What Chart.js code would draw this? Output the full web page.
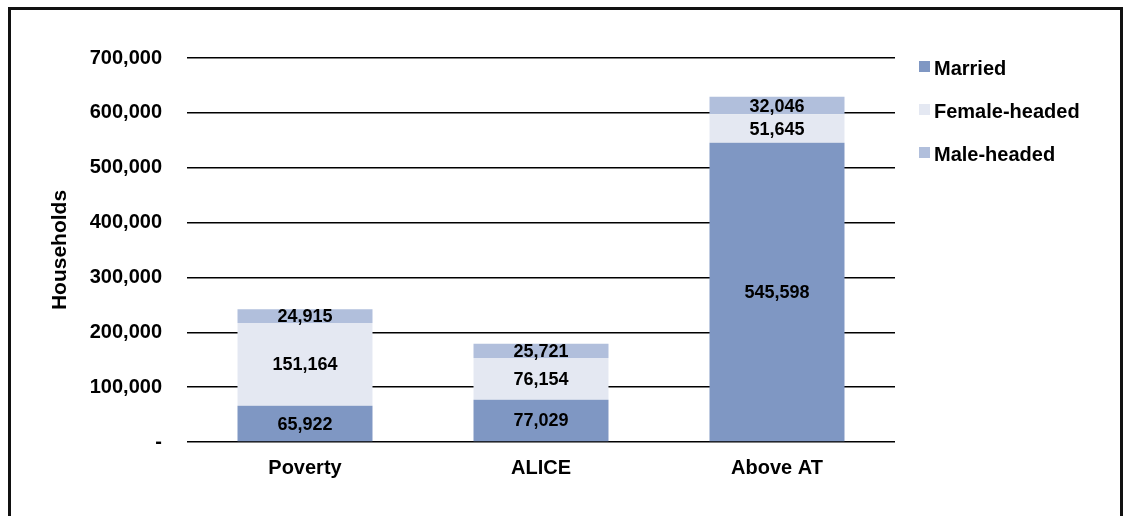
<!DOCTYPE html>
<html>
<head>
<meta charset="utf-8">
<script src="https://cdn.jsdelivr.net/npm/chart.js@4.4.1/dist/chart.umd.min.js"></script>
<style>
  html, body { margin: 0; padding: 0; background: #fff; }
  body { width: 1125px; height: 516px; position: relative; overflow: hidden; font-family: "Liberation Sans", Arial, sans-serif; }
  #frame { position: absolute; left: 8px; top: 7px; width: 1115px; height: 540px; border: 3px solid #111; box-sizing: border-box; }
  #wrap { position: absolute; left: 0; top: 0; width: 1125px; height: 516px; }
  #legend { position: absolute; left: 917px; top: 56px; white-space: nowrap; }
  .item { position: relative; height: 43px; font-size: 20px; font-weight: bold; color: #000; }
  .item span.box { position: absolute; left: 2px; top: 5px; width: 11px; height: 11px; }
  .item span.txt { position: absolute; left: 17px; top: 0; line-height: 24px; }
</style>
</head>
<body>
<div id="frame"></div>
<div id="wrap"><canvas id="chart" width="1125" height="516"></canvas></div>
<div id="legend"></div>
<script>
const categories = ['Poverty', 'ALICE', 'Above AT']
const married = [65922, 77029, 545598]
const femaleHeaded = [151164, 76154, 51645]
const maleHeaded = [24915, 25721, 32046]
const seriesNames = ['Married', 'Female-headed', 'Male-headed']
const seriesColors = ['#7f97c3', '#e4e8f2', '#b1bfdc']
const yTickLabels = ['-', '100,000', '200,000', '300,000', '400,000', '500,000', '600,000', '700,000']

const labelFont = "bold 18px 'Liberation Sans', Arial, sans-serif"

// draws the number in the middle of each stacked segment
const segmentLabels = {
  id: 'segmentLabels',
  afterDatasetsDraw(chart) {
    const ctx = chart.ctx
    ctx.save()
    ctx.font = labelFont
    ctx.fillStyle = '#000'
    ctx.textAlign = 'center'
    ctx.textBaseline = 'middle'
    chart.data.datasets.forEach((ds, i) => {
      const meta = chart.getDatasetMeta(i)
      meta.data.forEach((bar, j) => {
        const mid = (bar.y + bar.base) / 2
        ctx.fillText(ds.data[j].toLocaleString('en-US'), bar.x, mid + 1)
      })
    })
    ctx.restore()
  }
}

const seriesData = [married, femaleHeaded, maleHeaded]

const chartConfig = {
  type: 'bar',
  data: {
    labels: categories,
    datasets: seriesData.map((d, i) => ({
      label: seriesNames[i],
      data: d,
      backgroundColor: seriesColors[i],
      borderWidth: 0,
      categoryPercentage: 1,
      barPercentage: 0.572
    }))
  },
  options: {
    responsive: false,
    animation: false,
    layout: { padding: { left: 45, right: 230, top: 58, bottom: 0 } },
    plugins: {
      legend: { display: false },
      tooltip: { enabled: false }
    },
    scales: {
      x: {
        stacked: true,
        grid: { display: false },
        border: { display: false },
        ticks: {
          color: '#000',
          padding: 6,
          font: { family: "'Liberation Sans', Arial", size: 20, weight: 'bold' }
        },
        afterFit: (scale) => { scale.height = 74 }
      },
      y: {
        stacked: true,
        min: 0,
        max: 700000,
        grid: { color: '#000', lineWidth: 1.5, drawTicks: false },
        border: { display: false },
        ticks: {
          stepSize: 100000,
          color: '#000',
          padding: 25,
          font: { family: "'Liberation Sans', Arial", size: 20, weight: 'bold' },
          callback: (v, idx) => yTickLabels[idx]
        },
        title: {
          display: true,
          text: 'Households',
          color: '#000',
          font: { family: "'Liberation Sans', Arial", size: 21, weight: 'bold' },
          padding: { top: 3, bottom: 4 }
        },
        afterFit: (scale) => { scale.width = 142 }
      }
    }
  },
  plugins: [segmentLabels]
}

const myChart = new Chart(document.getElementById('chart'), chartConfig)

const legendEl = document.getElementById('legend')
seriesNames.forEach((name, i) => {
  const item = document.createElement('div')
  item.className = 'item'
  item.innerHTML = `<span class="box" style="background:${seriesColors[i]}"></span><span class="txt">${name}</span>`
  legendEl.appendChild(item)
})
</script>
</body>
</html>
